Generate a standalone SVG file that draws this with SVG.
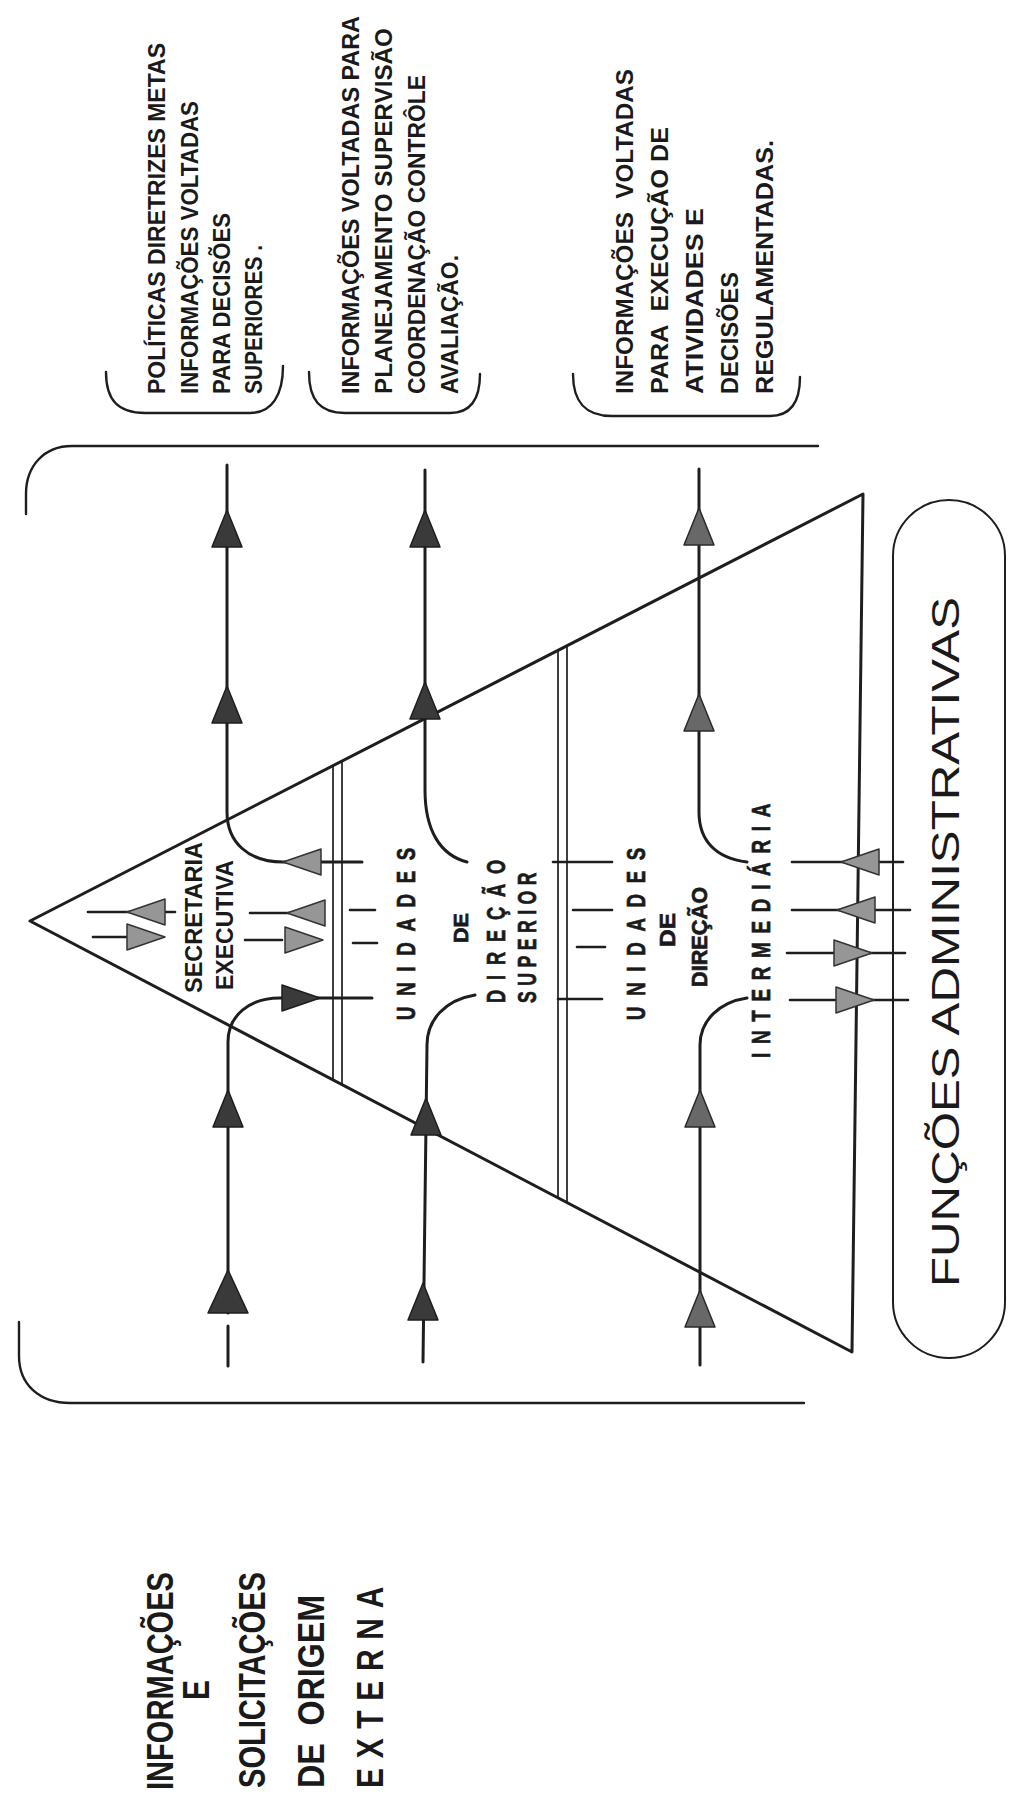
<svg xmlns="http://www.w3.org/2000/svg" xmlns:xlink="http://www.w3.org/1999/xlink" width="1010" height="1809" viewBox="0 0 1010 1809">
  <style>
    .ln { fill: none; stroke: #1e1e1e; stroke-width: 3; stroke-linecap: round; stroke-linejoin: round; }
    .thin { fill: none; stroke: #1e1e1e; stroke-width: 1.7; }
    .brk { fill: none; stroke: #1e1e1e; stroke-width: 2.4; stroke-linecap: round; }
    .tick { fill: none; stroke: #1e1e1e; stroke-width: 2.6; stroke-linecap: round; }
    .ah-dark { fill: #3a3a3a; stroke: #1e1e1e; stroke-width: 1.5; stroke-linejoin: round; }
    .ah-mid { fill: #686868; stroke: #2a2a2a; stroke-width: 1.5; stroke-linejoin: round; }
    .ah-light { fill: #969696; stroke: #333; stroke-width: 1.5; stroke-linejoin: round; }
    .cond { font-family: "Liberation Sans Narrow", "Liberation Sans", Arial, sans-serif; font-weight: bold; fill: #1a1a1a; }
    .top { font-size: 24px; }
    .ext { font-size: 37px; }
    .inner { font-size: 23px; }
    .spaced { font-size: 26px; stroke: #1a1a1a; stroke-width: 0.7; }
    .title { font-family: "Liberation Sans", Arial, sans-serif; font-size: 38px; fill: #1a1a1a; }
  </style>
  <defs>
    <!-- arrowheads, tip at the origin -->
    <path id="up" d="M0,0 L-15,37 L15,37 Z"/>
    <path id="upBig" d="M0,0 L-20,43 L20,43 Z"/>
    <path id="left" d="M0,0 L38,-13 L38,13 Z"/>
    <path id="right" d="M0,0 L-38,-13 L-38,13 Z"/>
  </defs>

  <rect width="1010" height="1809" fill="#ffffff"/>

  <!-- outer bracket enclosing the hierarchy -->
  <g id="outer-bracket">
    <path class="brk" d="M818,446 L72,446 C44,446 26,466 26,494 L26,514"/>
    <path class="brk" d="M19,1322 L19,1356 C19,1385 40,1403 70,1403 L804,1403"/>
  </g>

  <!-- output brackets under the three text blocks -->
  <g id="block-brackets">
    <path class="brk" d="M106,372 C106,400 118,413 145,413 L250,413 C272,413 283,395 283,366"/>
    <path class="brk" d="M309,372 C309,400 320,413 345,413 L450,413 C472,413 480,398 480,374"/>
    <path class="brk" d="M573,374 C573,402 585,416 612,416 L770,416 C792,416 800,400 800,377"/>
  </g>

  <!-- output text blocks -->
  <g id="out-politicas" class="cond top">
    <text transform="translate(165,394) rotate(-90)" textLength="351" lengthAdjust="spacingAndGlyphs">POLÍTICAS DIRETRIZES METAS</text>
    <text transform="translate(198,394) rotate(-90)" textLength="293" lengthAdjust="spacingAndGlyphs">INFORMAÇÕES VOLTADAS</text>
    <text transform="translate(230,394) rotate(-90)" textLength="181" lengthAdjust="spacingAndGlyphs">PARA DECISÕES</text>
    <text transform="translate(262,394) rotate(-90)" textLength="149" lengthAdjust="spacingAndGlyphs">SUPERIORES .</text>
  </g>
  <g id="out-planejamento" class="cond top">
    <text transform="translate(359,394) rotate(-90)" textLength="378" lengthAdjust="spacingAndGlyphs">INFORMAÇÕES VOLTADAS PARA</text>
    <text transform="translate(392,394) rotate(-90)" textLength="366" lengthAdjust="spacingAndGlyphs">PLANEJAMENTO SUPERVISÃO</text>
    <text transform="translate(425,394) rotate(-90)" textLength="319" lengthAdjust="spacingAndGlyphs">COORDENAÇÃO CONTRÔLE</text>
    <text transform="translate(458,394) rotate(-90)" textLength="139" lengthAdjust="spacingAndGlyphs">AVALIAÇÃO.</text>
  </g>
  <g id="out-execucao" class="cond top">
    <text transform="translate(633,394) rotate(-90)" textLength="325" lengthAdjust="spacingAndGlyphs" xml:space="preserve">INFORMAÇÕES  VOLTADAS</text>
    <text transform="translate(668,394) rotate(-90)" textLength="267" lengthAdjust="spacingAndGlyphs" xml:space="preserve">PARA  EXECUÇÃO DE</text>
    <text transform="translate(703,394) rotate(-90)" textLength="186" lengthAdjust="spacingAndGlyphs">ATIVIDADES E</text>
    <text transform="translate(738,394) rotate(-90)" textLength="122" lengthAdjust="spacingAndGlyphs">DECISÕES</text>
    <text transform="translate(773,394) rotate(-90)" textLength="254" lengthAdjust="spacingAndGlyphs">REGULAMENTADAS.</text>
  </g>

  <!-- hierarchy triangle with its level dividers -->
  <g id="pyramid">
    <path class="ln" d="M30,921 L863,494 L852,1352 Z"/>
    <line class="thin" x1="333" y1="765.7" x2="333" y2="1079.9"/>
    <line class="thin" x1="342" y1="761" x2="342" y2="1084.6"/>
    <line class="thin" x1="558" y1="650.3" x2="558" y2="1197.8"/>
    <line class="thin" x1="567" y1="645.7" x2="567" y2="1202.5"/>
  </g>

  <g id="lvl-secretaria" class="cond inner">
    <text transform="translate(202,993) rotate(-90)" textLength="151" lengthAdjust="spacingAndGlyphs">SECRETARIA</text>
    <text transform="translate(233,990) rotate(-90)" textLength="130" lengthAdjust="spacingAndGlyphs">EXECUTIVA</text>
  </g>
  <g id="lvl-direcao-superior" class="cond spaced">
    <text transform="translate(415,1020) rotate(-90)" letter-spacing="15" textLength="183" lengthAdjust="spacingAndGlyphs">UNIDADES</text>
    <text transform="translate(468,943) rotate(-90)" style="font-size:20px" textLength="30" lengthAdjust="spacingAndGlyphs">DE</text>
    <text transform="translate(505,1003) rotate(-90)" letter-spacing="14" textLength="153" lengthAdjust="spacingAndGlyphs">DIREÇÃO</text>
    <text transform="translate(536,1003) rotate(-90)" letter-spacing="8" textLength="136" lengthAdjust="spacingAndGlyphs">SUPERIOR</text>
  </g>
  <g id="lvl-direcao-intermediaria" class="cond spaced">
    <text transform="translate(645,1020) rotate(-90)" letter-spacing="15" textLength="183" lengthAdjust="spacingAndGlyphs">UNIDADES</text>
    <text transform="translate(675,947) rotate(-90)" style="font-size:22px" textLength="34" lengthAdjust="spacingAndGlyphs">DE</text>
    <text transform="translate(707,987) rotate(-90)" style="font-size:22px" textLength="100" lengthAdjust="spacingAndGlyphs">DIREÇÃO</text>
    <text transform="translate(770,1058) rotate(-90)" letter-spacing="12" textLength="263" lengthAdjust="spacingAndGlyphs">INTERMEDIÁRIA</text>
  </g>

  <!-- administrative functions label -->
  <g id="funcoes">
    <rect x="893" y="500" width="112" height="858" rx="56" ry="56" fill="none" stroke="#1e1e1e" stroke-width="2"/>
    <text class="title" transform="translate(959,1287) rotate(-90)" textLength="690" lengthAdjust="spacingAndGlyphs">FUNÇÕES ADMINISTRATIVAS</text>
  </g>

  <!-- external input label -->
  <g id="entrada-externa" class="cond ext">
    <text transform="translate(173,1790) rotate(-90)" textLength="218" lengthAdjust="spacingAndGlyphs">INFORMAÇÕES</text>
    <text transform="translate(209,1700) rotate(-90)" textLength="20" lengthAdjust="spacingAndGlyphs">E</text>
    <text transform="translate(265,1788) rotate(-90)" textLength="216" lengthAdjust="spacingAndGlyphs">SOLICITAÇÕES</text>
    <text transform="translate(324,1788) rotate(-90)" textLength="193" lengthAdjust="spacingAndGlyphs" xml:space="preserve">DE  ORIGEM</text>
    <text transform="translate(383,1788) rotate(-90)" letter-spacing="12" textLength="211" lengthAdjust="spacingAndGlyphs">EXTERNA</text>
  </g>

  <!-- information flows -->
  <g id="connectors">
    <!-- flow 1 -->
    <path class="ln" d="M227,465 L227,812 C227,842 248,862 283,862 L362,862"/>
    <path class="ln" d="M372,998 L280,998 C250,998 228,1015 228,1042 L228,1313"/>
    <path class="ln" d="M228,1326 L228,1366"/>
    <!-- flow 2 -->
    <path class="ln" d="M425,470 L425,790 C425,830 440,855 467,862"/>
    <path class="ln" d="M475,995 C445,1000 427,1020 427,1045 L423,1362"/>
    <!-- flow 3 -->
    <path class="ln" d="M699,469 L699,812 C699,840 715,858 747,862"/>
    <path class="ln" d="M747,998 C720,1002 700,1020 700,1045 L700,1365"/>

    <!-- exchanges at the apex -->
    <path class="tick" d="M88,912 L175,912"/>
    <path class="tick" d="M93,937 L127,937"/>
    <path class="tick" d="M250,913 L323,913"/>
    <path class="tick" d="M245,940 L282,940"/>
    <path class="tick" d="M350,910 L375,910"/>
    <path class="tick" d="M353,943 L377,943"/>
    <!-- ticks at the second divider -->
    <path class="tick" d="M553,862 L612,862"/>
    <path class="tick" d="M573,910 L612,910"/>
    <path class="tick" d="M577,947 L605,947"/>
    <path class="tick" d="M558,999 L602,999"/>
    <!-- exchanges at the base -->
    <path class="tick" d="M792,862 L903,862"/>
    <path class="tick" d="M792,910 L910,910"/>
    <path class="tick" d="M787,953 L905,953"/>
    <path class="tick" d="M790,1000 L908,1000"/>

    <!-- arrowheads on the vertical flows -->
    <use xlink:href="#up" class="ah-dark" x="227" y="510"/>
    <use xlink:href="#up" class="ah-dark" x="227" y="686"/>
    <use xlink:href="#up" class="ah-dark" x="228" y="1090"/>
    <use xlink:href="#upBig" class="ah-dark" x="228" y="1270"/>
    <use xlink:href="#up" class="ah-dark" x="425" y="510"/>
    <use xlink:href="#up" class="ah-dark" x="425" y="682"/>
    <use xlink:href="#up" class="ah-dark" x="426" y="1098"/>
    <use xlink:href="#up" class="ah-dark" x="423" y="1283"/>
    <use xlink:href="#up" class="ah-mid" x="699" y="508"/>
    <use xlink:href="#up" class="ah-mid" x="699" y="694"/>
    <use xlink:href="#up" class="ah-mid" x="700" y="1090"/>
    <use xlink:href="#up" class="ah-mid" x="700" y="1290"/>

    <!-- arrowheads inside the hierarchy -->
    <use xlink:href="#left" class="ah-light" x="127" y="912"/>
    <use xlink:href="#right" class="ah-light" x="165" y="937"/>
    <use xlink:href="#left" class="ah-light" x="283" y="862"/>
    <use xlink:href="#left" class="ah-light" x="287" y="913"/>
    <use xlink:href="#right" class="ah-light" x="323" y="940"/>
    <use xlink:href="#right" class="ah-dark" x="320" y="998"/>
    <use xlink:href="#left" class="ah-light" x="841" y="862"/>
    <use xlink:href="#left" class="ah-light" x="837" y="910"/>
    <use xlink:href="#right" class="ah-light" x="872" y="953"/>
    <use xlink:href="#right" class="ah-light" x="874" y="1000"/>
  </g>
</svg>
